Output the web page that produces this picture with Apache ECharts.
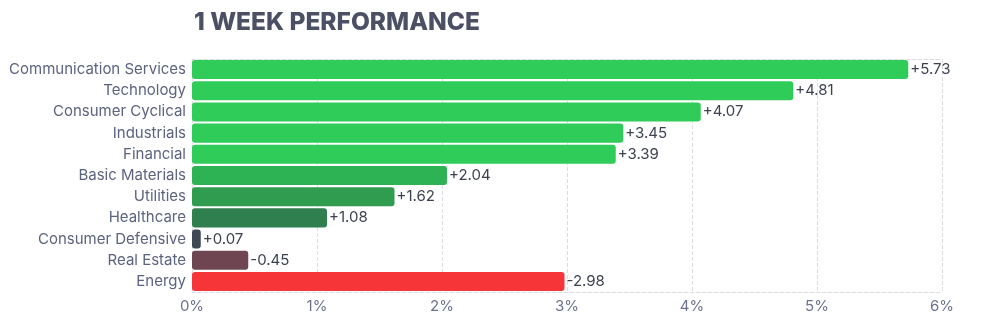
<!DOCTYPE html>
<html>
<head>
<meta charset="utf-8">
<script src="https://cdn.jsdelivr.net/npm/echarts@6/dist/echarts.min.js"></script>
<style>
html,body{margin:0;padding:0;background:#fff;}
#c{width:983px;height:329px;}
</style>
</head>
<body>
<div id="c"></div>
<script>
const titleText = '1 WEEK PERFORMANCE';
const categories = ['Communication Services','Technology','Consumer Cyclical','Industrials','Financial','Basic Materials','Utilities','Healthcare','Consumer Defensive','Real Estate','Energy'];
const values = [5.73, 4.81, 4.07, 3.45, 3.39, 2.04, 1.62, 1.08, 0.07, -0.45, -2.98];
const barColors = ['#30cc5a','#30cc5a','#30cc5a','#30cc5a','#30cc5a','#2eb354','#2f9c50','#2f7f4f','#3f4956','#6e4550','#f63538'];
const xTicks = [0, 1, 2, 3, 4, 5, 6];

const chart = echarts.init(document.getElementById('c'), null, {renderer: 'canvas'});
const font = 'Inter, "Noto Sans", sans-serif';
chart.setOption({
  animation: false,
  title: {
    text: titleText, left: 189, top: 5,
    textStyle: {fontFamily: font, fontSize: 24.5, fontWeight: 800, color: '#4b5064'}
  },
  grid: {left: 192, right: 41, top: 59, bottom: 37},
  xAxis: [{
    type: 'value', min: xTicks[0], max: xTicks[xTicks.length - 1], interval: 1,
    axisLine: {show: true, lineStyle: {color: '#dcdde3', type: 'dashed'}},
    axisTick: {show: false},
    axisLabel: {formatter: v => v + '%', fontFamily: font, fontSize: 15, color: '#6b7290', margin: 7},
    splitLine: {show: true, lineStyle: {color: '#dcdde3', type: 'dashed'}}
  }, {
    type: 'value', position: 'top', min: xTicks[0], max: xTicks[xTicks.length - 1], interval: 1,
    axisLine: {show: true, lineStyle: {color: '#dcdde3', type: 'dashed'}},
    axisTick: {show: false}, axisLabel: {show: false}, splitLine: {show: false}
  }],
  yAxis: {
    type: 'category', data: categories, inverse: true,
    axisLine: {show: false}, axisTick: {show: false},
    axisLabel: {fontFamily: font, fontSize: 15, color: '#5c6380', margin: 6}
  },
  series: [{
    type: 'bar', xAxisIndex: 0,
    barCategoryGap: '10%',
    data: values.map((v, i) => ({value: Math.abs(v), itemStyle: {color: barColors[i], borderRadius: 3}})),
    label: {
      show: true, position: 'right', distance: 2,
      fontFamily: font, fontSize: 15, color: '#3d4252',
      formatter: p => { const v = values[p.dataIndex]; return (v >= 0 ? '+' : '') + v.toFixed(2); }
    }
  }]
});
</script>
</body>
</html>
